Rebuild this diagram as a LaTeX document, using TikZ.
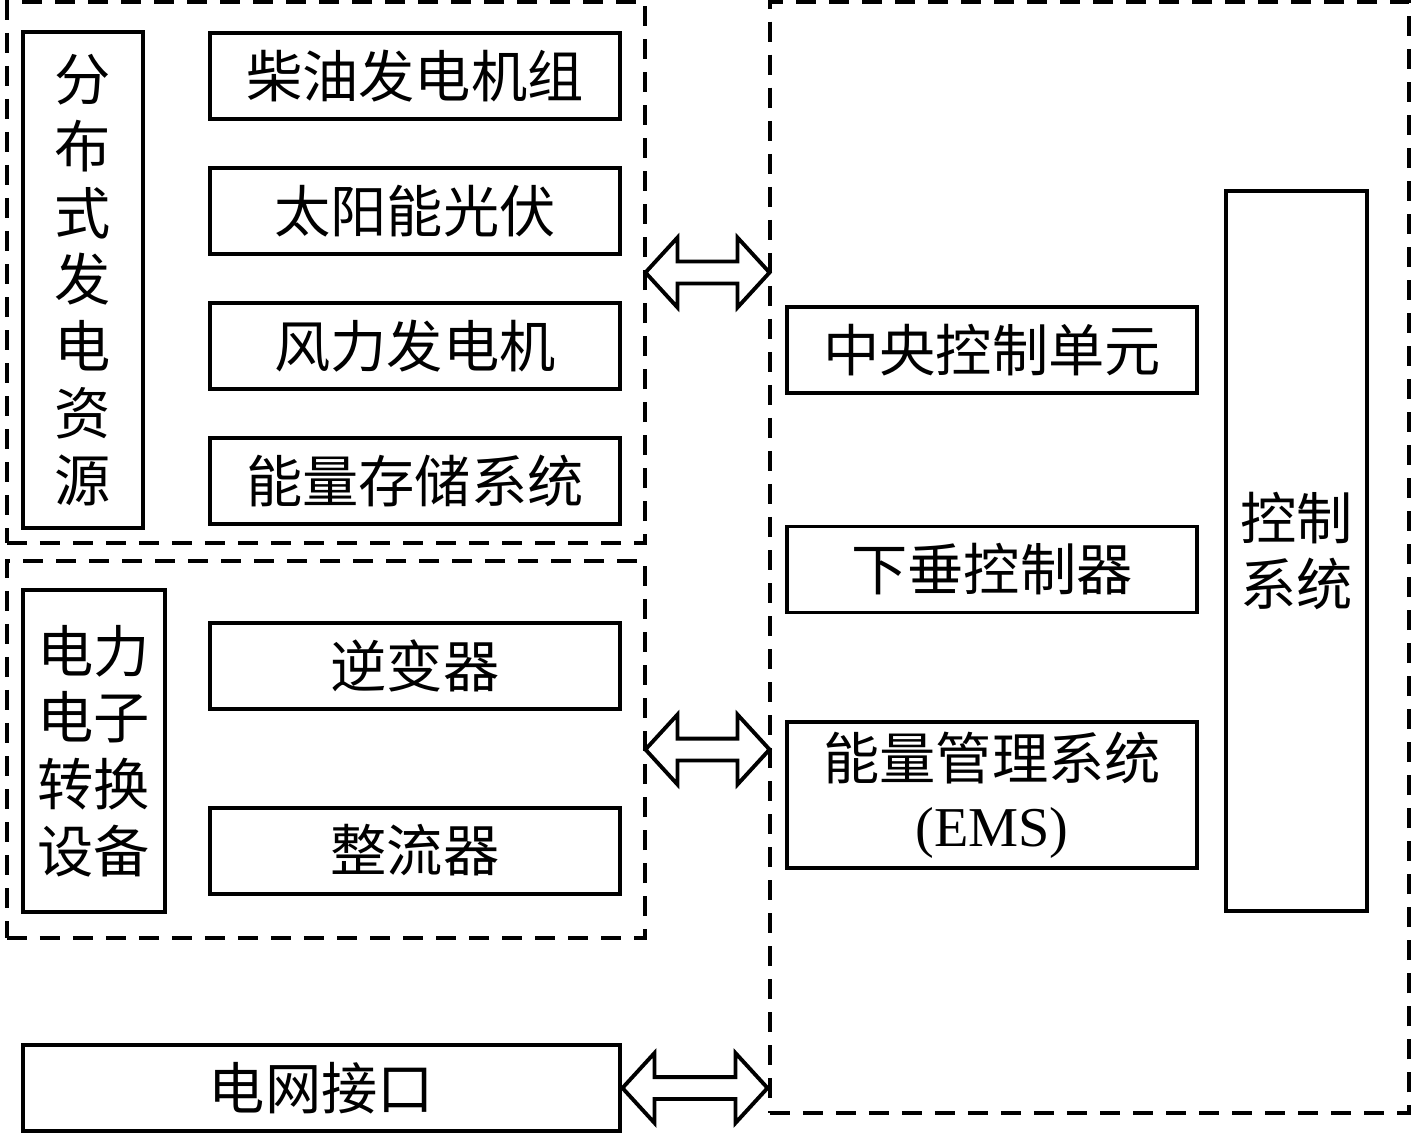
\documentclass[tikz,border=0pt]{standalone}
\usepackage{fontspec}
\setmainfont{Liberation Serif}
\newfontfamily\cjk{Noto Sans CJK SC}
\usetikzlibrary{positioning,shapes.arrows,calc}

\begin{document}
\begin{tikzpicture}[x=0.01cm,y=-0.01cm,node distance=1.35cm,on grid,
    every node/.style={font=\cjk\fontsize{16}{19}\selectfont},
    box/.style={draw,line width=1.1pt,inner sep=0pt,outer sep=0pt,minimum width=4.1cm,minimum height=0.86cm,align=center},
    group/.style={draw,line width=1.1pt,dash pattern=on 0.2cm off 0.13cm,inner sep=0pt,outer sep=0pt},
    link/.style={double arrow,draw,line width=1.1pt,inner xsep=0pt,inner ysep=0.09cm,double arrow head extend=0.24cm,double arrow tip angle=95}]
      \useasboundingbox (0,0) rectangle (1417,1133);
      \node[group,minimum width=6.38cm,minimum height=5.41cm] (sources) at (326,272.5) {};
      \node[group,minimum width=6.38cm,minimum height=3.77cm] (converters) at (326,749.5) {};
      \node[group,minimum width=6.39cm,minimum height=11.11cm] (control) at (1089.5,557.5) {};

      \node[box,minimum width=1.2cm,minimum height=4.96cm] (der) at (83,280) {分\\布\\式\\发\\电\\资\\源};
      \node[box] (diesel) at (415,76) {柴油发电机组};
      \node[box] (pv) [below=of diesel] {太阳能光伏};
      \node[box] (wind) [below=of pv] {风力发电机};
      \node[box] (storage) [below=of wind] {能量存储系统};

      \node[box,minimum width=1.42cm,minimum height=3.22cm] (pe) at (94,751) {电力\\电子\\转换\\设备};
      \node[box] (inverter) at (415,666) {逆变器};
      \node[box] (rectifier) [below=1.845cm of inverter] {整流器};
      \node[box,minimum width=5.97cm] (grid) at (321.5,1088) {电网接口};

      \node[box] (ccu) at (992,350) {中央控制单元};
      \node[box] (droop) at (992,569.5) {下垂控制器};
      \node[box,minimum height=1.46cm] (ems) at (992,795) {能量管理系统\\{\rmfamily (EMS)}};
      \node[box,minimum width=1.41cm,minimum height=7.2cm] (ctrl) at (1296.5,551) {控制\\系统};

      \node[link,minimum height=1.24cm] (link1) at ($(sources.east)!0.5!(sources.east -| control.west)$) {};
      \node[link,minimum height=1.24cm] (link2) at ($(converters.east)!0.5!(converters.east -| control.west)$) {};
      \node[link,minimum height=1.45cm] (link3) at ($(grid.east)!0.5!(grid.east -| control.west)$) {};
    \end{tikzpicture}
\end{document}
